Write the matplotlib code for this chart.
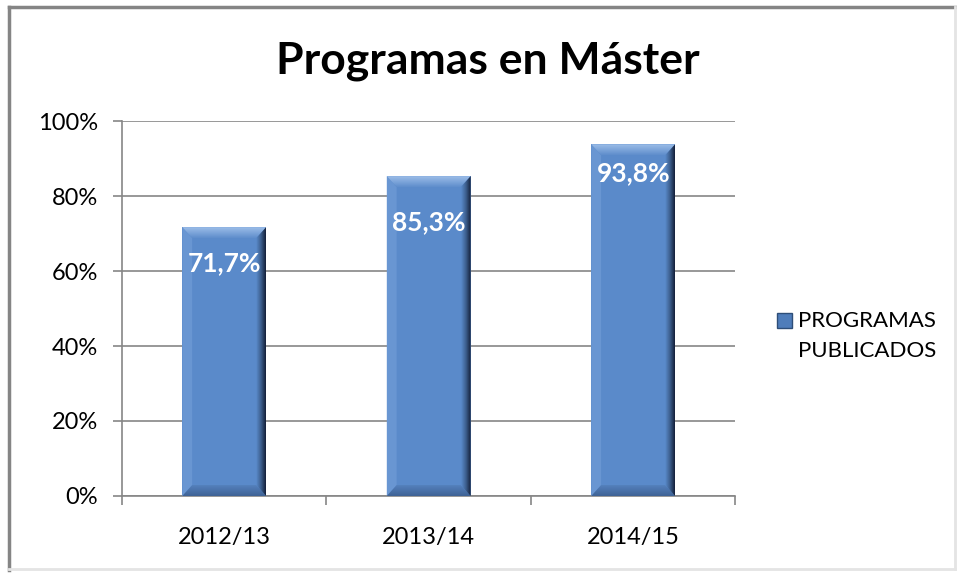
import numpy as np
import matplotlib
matplotlib.use('Agg')
import matplotlib.pyplot as plt
from matplotlib.lines import Line2D
from matplotlib.patches import Polygon, Rectangle
from matplotlib.colors import LinearSegmentedColormap

cursos = ['2012/13', '2013/14', '2014/15']
publicados = [71.7, 85.3, 93.8]
serie = 'PROGRAMAS\nPUBLICADOS'
yticks = [0, 20, 40, 60, 80, 100]

# label offsets below the bar top (points), as Excel placed them
label_dy = [-26, -33, -21]

plt.rcParams['font.family'] = ['Lato', 'DejaVu Sans']

BODY = '#5A8ACA'

fig = plt.figure(figsize=(9.57, 5.73), dpi=100)
ax = fig.add_axes([0.1275, 0.1344, 0.641, 0.6544])

x = np.arange(len(cursos))
bars = ax.bar(x, publicados, width=0.41, color=BODY, zorder=2)

ax.set_xlim(-0.5, 2.5)
ax.set_ylim(0, 100)

# bevel effect on each bar
dx, dy = 0.048, 2.9
right_cm = LinearSegmentedColormap.from_list('r', [BODY, '#3D5F8E', '#14203A'])
top_cm = LinearSegmentedColormap.from_list('t', ['#5F8ECC', '#9CBDE8'])
bot_cm = LinearSegmentedColormap.from_list('b', ['#3F6396', '#5480BC'])
for b in bars:
    x0, y0 = b.get_x(), b.get_y()
    x1, y1 = x0 + b.get_width(), y0 + b.get_height()
    left = Polygon([(x0, y0), (x0, y1), (x0 + dx, y1 - dy), (x0 + dx, y0 + dy)],
                   closed=True, fc='#6996D2', ec='none', zorder=3)
    ax.add_patch(left)
    bottom = Polygon([(x0, y0), (x1, y0), (x1 - dx, y0 + dy), (x0 + dx, y0 + dy)],
                     closed=True, fc='none', ec='none', zorder=3)
    ax.add_patch(bottom)
    im = ax.imshow(np.linspace(0, 1, 32).reshape(-1, 1), cmap=bot_cm, aspect='auto',
                   origin='lower', extent=(x0, x1, y0, y0 + dy), zorder=3,
                   interpolation='bilinear')
    im.set_clip_path(bottom)
    top = Polygon([(x0, y1), (x1, y1), (x1 - dx, y1 - dy), (x0 + dx, y1 - dy)],
                  closed=True, fc='none', ec='none', zorder=3)
    ax.add_patch(top)
    im = ax.imshow(np.linspace(0, 1, 32).reshape(-1, 1), cmap=top_cm, aspect='auto',
                   origin='lower', extent=(x0, x1, y1 - dy, y1), zorder=3,
                   interpolation='bilinear')
    im.set_clip_path(top)
    right = Polygon([(x1, y1), (x1, y0), (x1 - dx, y0 + dy), (x1 - dx, y1 - dy)],
                    closed=True, fc='none', ec='none', zorder=3)
    ax.add_patch(right)
    im = ax.imshow(np.linspace(0, 1, 32).reshape(1, -1), cmap=right_cm, aspect='auto',
                   extent=(x1 - dx, x1, y0, y1), zorder=3, interpolation='bilinear')
    im.set_clip_path(right)

for xi, v, off in zip(x, publicados, label_dy):
    ax.annotate(f'{v:.1f}%'.replace('.', ','), xy=(xi, v), xytext=(0, off),
                textcoords='offset points', ha='center', va='center',
                color='white', fontsize=19, fontweight='bold', zorder=5)

ax.set_yticks(yticks)
ax.set_yticklabels([f'{t}%' for t in yticks], fontsize=17)
ax.set_xticks(x)
ax.set_xticklabels(cursos, fontsize=17)
ax.set_xticks([-0.5, 0.5, 1.5, 2.5], minor=True)
ax.tick_params(axis='x', which='major', length=0, pad=22)
ax.tick_params(axis='x', which='minor', length=6.5, color='#868686', width=1.2)
ax.tick_params(axis='y', length=6.5, color='#868686', width=1.2, pad=11)
ax.yaxis.grid(True, color='#868686', linewidth=1.2, zorder=0)
ax.set_axisbelow(True)
for s in ['top', 'right']:
    ax.spines[s].set_visible(False)
for s in ['left', 'bottom']:
    ax.spines[s].set_color('#868686')
    ax.spines[s].set_linewidth(1.2)

fig.text(0.51, 0.893, 'Programas en Máster', ha='center', va='center',
         fontsize=32, fontweight='bold')

# legend (marker aligned with first line, as in the original)
fig.add_artist(Rectangle((777 / 957, 1 - 328 / 573), 15 / 957, 15 / 573,
                         transform=fig.transFigure, fc='#4F7DBA', ec='#2E4E78', lw=1))
fig.text(798 / 957, 1 - 311 / 573, serie, ha='left', va='top', fontsize=16,
         linespacing=1.65)

# chart-area border like the spreadsheet frame
fig.add_artist(Line2D([0.009, 0.998], [0.987, 0.987], color='#858585', lw=2.5))
fig.add_artist(Line2D([0.009, 0.009], [0.987, 0.005], color='#858585', lw=2.5))
fig.add_artist(Line2D([0.009, 0.998], [0.007, 0.007], color='#e4e4e4', lw=2))
fig.add_artist(Line2D([0.998, 0.998], [0.987, 0.007], color='#e4e4e4', lw=2))

fig.savefig('out.png', dpi=100)
